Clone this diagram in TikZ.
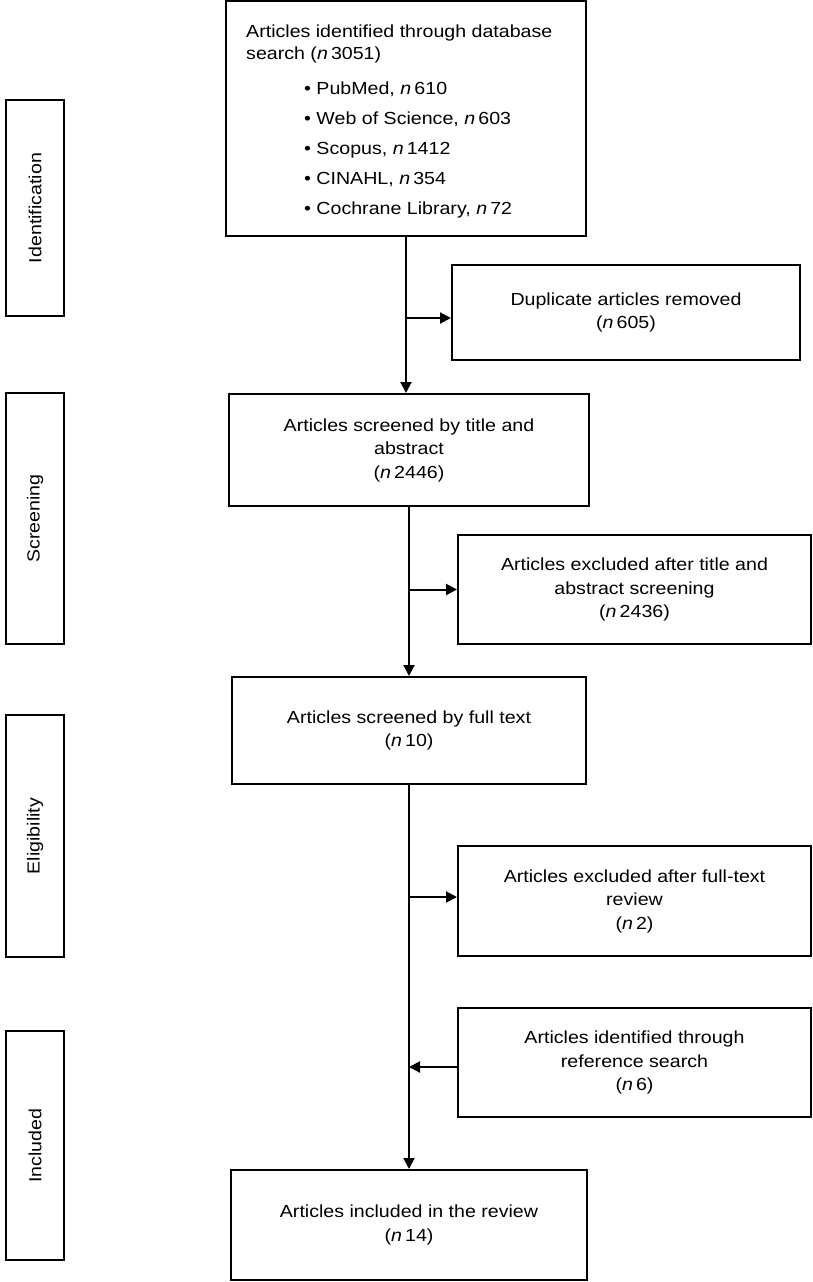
\documentclass[tikz,border=0pt]{standalone}
\usepackage{fontspec}
\setmainfont[FakeStretch=1.12]{Liberation Sans}
\usetikzlibrary{arrows.meta,calc}
\begin{document}
\begin{tikzpicture}[x=1pt,y=-1pt,
  every node/.style={font=\fontsize{17.5}{23.5}\selectfont},
  box/.style={draw, line width=2pt, align=center, inner sep=0pt},
  sidebox/.style={draw, line width=2pt, inner sep=0pt, minimum width=58pt},
  sidetext/.style={rotate=90},
  txt/.style={inner sep=0pt, anchor=base west},
  arr/.style={line width=2pt, -{Triangle[length=11pt,width=11pt]}}]
\useasboundingbox (0,0) rectangle (812,1282);
\newcommand{\nn}[1]{(\textit{n}\hspace{0.18em}#1)}
% main column
\node[box, minimum width=360pt, minimum height=235pt] (top) at (406,118.5) {};
\node[txt] (t1) at (246,37) {Articles identified through database};
\node[txt] (t2) at (246,59) {search (\textit{n}\hspace{0.18em}3051)};
\node[txt] (t3) at (304,94) {\textbullet\ PubMed, \textit{n}\hspace{0.18em}610};
\node[txt] (t4) at (304,124) {\textbullet\ Web of Science, \textit{n}\hspace{0.18em}603};
\node[txt] (t5) at (304,154) {\textbullet\ Scopus, \textit{n}\hspace{0.18em}1412};
\node[txt] (t6) at (304,184) {\textbullet\ CINAHL, \textit{n}\hspace{0.18em}354};
\node[txt] (t7) at (304,214) {\textbullet\ Cochrane Library, \textit{n}\hspace{0.18em}72};
\node[box, minimum width=360pt, minimum height=112pt] (box2) at (409,450) {Articles screened by title and\\abstract\\\nn{2446}};
\node[box, minimum width=354pt, minimum height=107pt] (box3) at (409,730.5) {Articles screened by full text\\\nn{10}};
\node[box, minimum width=356pt, minimum height=110pt] (final) at (409,1225) {Articles included in the review\\\nn{14}};
% right column
\node[box, minimum width=348pt, minimum height=95pt] (dup) at (626,312.5) {Duplicate articles removed\\\nn{605}};
\node[box, minimum width=353pt, minimum height=109pt] (exc1) at (634.5,589.5) {Articles excluded after title and\\abstract screening\\\nn{2436}};
\node[box, minimum width=353pt, minimum height=110pt] (exc2) at (634.5,901) {Articles excluded after full-text\\review\\\nn{2}};
\node[box, minimum width=353pt, minimum height=109pt] (ref) at (634.5,1062.5) {Articles identified through\\reference search\\\nn{6}};
% side labels
\node[sidebox, minimum height=216pt] (ident) at (35,208) {};
\node[sidetext] (identl) at (ident.center) {Identification};
\node[sidebox, minimum height=251pt] (scr) at (35,518.5) {};
\node[sidetext] (scrl) at (scr.center) {Screening};
\node[sidebox, minimum height=242pt] (elig) at (35,836) {};
\node[sidetext] (eligl) at (elig.center) {Eligibility};
\node[sidebox, minimum height=229pt] (incl) at (35,1145.5) {};
\node[sidetext] (incll) at (incl.center) {Included};
% connectors
\draw[arr] (top.south) -- (top.south |- box2.north);
\draw[arr] ([yshift=-5.5pt]dup.west -| top.south) -- ([yshift=-5.5pt]dup.west);
\draw[arr] (box2.south) -- (box3.north);
\draw[arr] (exc1.west -| box2.south) -- (exc1.west);
\draw[arr] (box3.south) -- (final.north);
\draw[arr] ([yshift=4pt]exc2.west -| box3.south) -- ([yshift=4pt]exc2.west);
\draw[arr] ([yshift=-4.5pt]ref.west) -- ([yshift=-4.5pt]ref.west -| box3.south);
\end{tikzpicture}
\end{document}
